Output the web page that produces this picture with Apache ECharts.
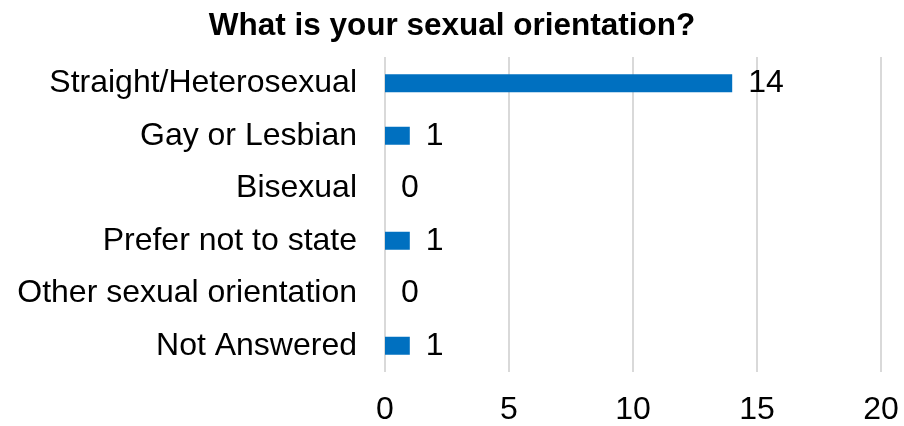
<!DOCTYPE html>
<html>
<head>
<meta charset="utf-8">
<script src="https://cdn.jsdelivr.net/npm/echarts@6/dist/echarts.min.js"></script>
<style>html,body{margin:0;padding:0;background:#fff;}#c{width:904px;height:426px;}</style>
</head>
<body>
<div id="c"></div>
<script>
const title = 'What is your sexual orientation?';
const categories = ['Straight/Heterosexual', 'Gay or Lesbian', 'Bisexual', 'Prefer not to state', 'Other sexual orientation', 'Not Answered'];
const values = [14, 1, 0, 1, 0, 1];
const xTicks = [0, 5, 10, 15, 20];

const FONT = '"Liberation Sans", Arial, sans-serif';
const chart = echarts.init(document.getElementById('c'), null, {renderer: 'canvas'});
chart.setOption({
  animation: false,
  backgroundColor: '#fff',
  title: {
    text: title,
    left: 'center',
    top: 5,
    textStyle: {fontFamily: FONT, fontSize: 31.5, fontWeight: 'bold', color: '#000'}
  },
  grid: {left: 385, right: 23, top: 57, bottom: 54, containLabel: false},
  xAxis: {
    type: 'value',
    min: xTicks[0],
    max: xTicks[xTicks.length - 1],
    interval: 5,
    axisLine: {show: false},
    axisTick: {show: false},
    axisLabel: {fontFamily: FONT, fontSize: 32, color: '#000', margin: 22},
    splitLine: {show: true, lineStyle: {color: '#d9d9d9', width: 2}}
  },
  yAxis: {
    type: 'category',
    data: categories,
    inverse: true,
    axisLine: {show: false},
    axisTick: {show: false},
    axisLabel: {fontFamily: FONT, fontSize: 32, color: '#000', margin: 28},
    splitLine: {show: false}
  },
  series: [{
    type: 'bar',
    data: values,
    barWidth: 18,
    itemStyle: {color: '#0070C0'},
    label: {show: true, position: 'right', distance: 16, fontFamily: FONT, fontSize: 32, color: '#000'}
  }]
});
</script>
</body>
</html>
